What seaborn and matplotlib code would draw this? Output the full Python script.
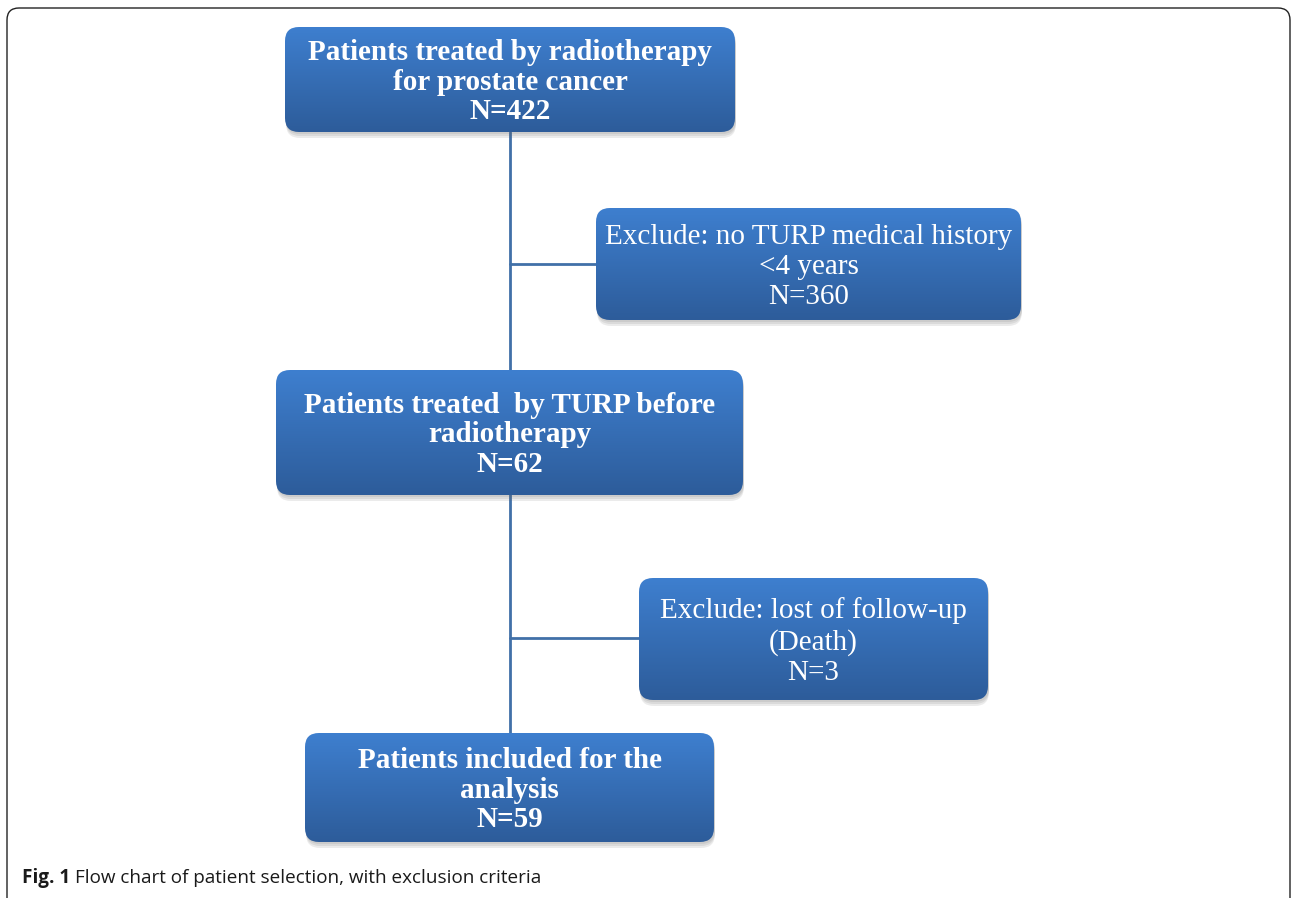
import numpy as np
import seaborn as sns
import matplotlib
matplotlib.use("Agg")
from matplotlib import pyplot as plt
from matplotlib.patches import FancyBboxPatch
from matplotlib.colors import LinearSegmentedColormap

# flow chart content
box_texts = [
    "Patients treated by radiotherapy\nfor prostate cancer\nN=422",
    "Exclude: no TURP medical history\n<4 years\nN=360",
    "Patients treated  by TURP before\nradiotherapy\nN=62",
    "Exclude: lost of follow-up\n(Death)\nN=3",
    "Patients included for the\nanalysis\nN=59",
]
box_bold = [True, False, True, False, True]
caption_bold = "Fig. 1"
caption_text = "Flow chart of patient selection, with exclusion criteria"

# box layout in pixel coords: x0, y0, x1, y1
boxes = [
    (285, 27, 735, 132),
    (596, 208, 1021, 320),
    (276, 370, 743, 495),
    (639, 578, 988, 700),
    (305, 733, 714, 842),
]
spine_x = 510
branch_y = [264, 638]

sns.set_theme(style="white")
plt.rcParams['font.family'] = ['Liberation Serif', 'DejaVu Serif']

fig = plt.figure(figsize=(12.92, 8.98), dpi=100)
ax = fig.add_axes([0, 0, 1, 1])
ax.set_xlim(0, 1292)
ax.set_ylim(898, 0)
ax.axis('off')

# outer frame
frame = FancyBboxPatch((7, 8), 1283, 905, boxstyle="round,pad=0,rounding_size=12",
                       fc='white', ec='#222222', lw=1.0, zorder=0)
ax.add_patch(frame)

line_col = '#4170A8'
ax.plot([spine_x, spine_x], [boxes[0][3], boxes[4][1]], color=line_col, lw=2, zorder=1)
for by, bi in zip(branch_y, [1, 3]):
    ax.plot([spine_x, boxes[bi][0]], [by, by], color=line_col, lw=2, zorder=1)

cmap = LinearSegmentedColormap.from_list('box', ['#3E7FCF', '#2D5C9A'])
grad = np.linspace(0, 1, 256).reshape(-1, 1)

for (x0, y0, x1, y1), txt, bold in zip(boxes, box_texts, box_bold):
    w, h = x1 - x0, y1 - y0
    for k in range(3):
        shadow = FancyBboxPatch((x0 + 1, y0 + 2 + 2 * k), w, h,
                                boxstyle="round,pad=0,rounding_size=14",
                                fc='#606060', ec='none', alpha=0.12, zorder=2)
        ax.add_patch(shadow)
    patch = FancyBboxPatch((x0, y0), w, h, boxstyle="round,pad=0,rounding_size=14",
                           fc='none', ec='none', zorder=3)
    ax.add_patch(patch)
    im = ax.imshow(grad, cmap=cmap, extent=(x0, x1, y1, y0), aspect='auto', zorder=3,
                   interpolation='bilinear')
    im.set_clip_path(patch)
    ax.text((x0 + x1) / 2, (y0 + y1) / 2 + 2.5, txt, ha='center', va='center', color='white',
            fontsize=21, fontweight='bold' if bold else 'normal',
            linespacing=1.12 if bold else 1.2, zorder=4)

ax.set_xlim(0, 1292)
ax.set_ylim(898, 0)

ax.text(22, 878, caption_bold, ha='left', va='center', fontsize=13.6, fontweight='bold',
        family=['Open Sans', 'DejaVu Sans'], color='#1a1a1a')
ax.text(75, 878, caption_text, ha='left', va='center', fontsize=13.6,
        family=['Open Sans', 'DejaVu Sans'], color='#1a1a1a')

fig.savefig('out.png', dpi=100)
